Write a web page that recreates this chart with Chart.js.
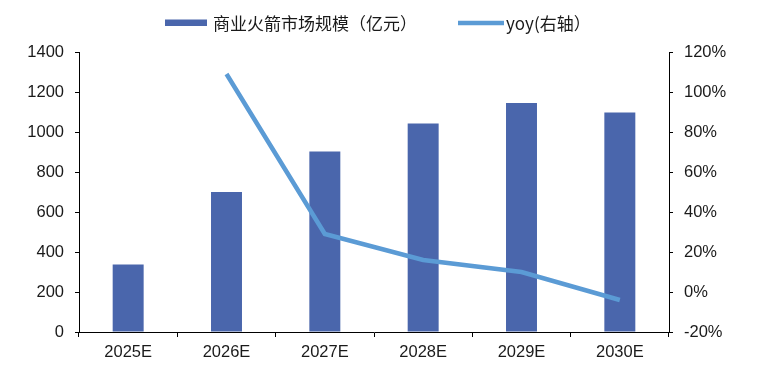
<!DOCTYPE html>
<html><head><meta charset="utf-8">
<script src="https://cdn.jsdelivr.net/npm/chart.js@4/dist/chart.umd.min.js"></script>
<style>html,body{margin:0;padding:0;background:#fff}</style>
</head><body>
<canvas id="c" width="758" height="371"></canvas>
<script>
const categories = ['2025E','2026E','2027E','2028E','2029E','2030E'];
const marketSize = [338, 700, 903, 1042, 1145, 1098];
const yoy = [null, 109, 29, 16, 10, -4];
const seriesNames = ['商业火箭市场规模（亿元）', 'yoy(右轴）'];
const leftRange = {min: 0, max: 1400, step: 200};
const rightRange = {min: -20, max: 120, step: 20};

const BAR_COLOR = '#4A66AC';
const LINE_COLOR = '#5B9BD5';
const TICK_FONT = {family: '"Liberation Sans", Arial, sans-serif', size: 16.5};
const TEXT_COLOR = '#1a1a1a';

const legendPlugin = {
  id: 'topLegend',
  afterDraw(chart) {
    const ctx = chart.ctx;
    const ds = chart.data.datasets;
    const barDs = ds.find(d => d.type === 'bar');
    const lineDs = ds.find(d => d.type === 'line');
    ctx.save();
    ctx.font = '17px "Noto Sans CJK SC", sans-serif';
    ctx.textBaseline = 'middle';
    ctx.fillStyle = barDs.backgroundColor;
    ctx.fillRect(165, 19.5, 42, 6.5);
    ctx.fillStyle = TEXT_COLOR;
    ctx.fillText(barDs.label, 213, 23.5);
    ctx.strokeStyle = lineDs.borderColor;
    ctx.lineWidth = 4.5;
    ctx.beginPath();
    ctx.moveTo(458, 23);
    ctx.lineTo(504, 23);
    ctx.stroke();
    ctx.fillText(lineDs.label, 506, 23.5);
    ctx.restore();
  }
};

new Chart(document.getElementById('c'), {
  type: 'bar',
  data: {
    labels: categories,
    datasets: [
      {
        type: 'line',
        label: seriesNames[1],
        data: yoy,
        yAxisID: 'y1',
        borderColor: LINE_COLOR,
        backgroundColor: LINE_COLOR,
        borderWidth: 4.5,
        pointRadius: 0,
        tension: 0,
        order: 0
      },
      {
        type: 'bar',
        label: seriesNames[0],
        data: marketSize,
        yAxisID: 'y',
        backgroundColor: BAR_COLOR,
        categoryPercentage: 1,
        barPercentage: 0.315,
        order: 1
      }
    ]
  },
  options: {
    responsive: false,
    devicePixelRatio: 1,
    animation: false,
    layout: {padding: {top: 52, left: 0, right: 0, bottom: 0}},
    plugins: {legend: {display: false}, tooltip: {enabled: false}},
    scales: {
      x: {
        offset: true,
        grid: {offset: true, drawOnChartArea: false, color: '#000', tickLength: 5},
        border: {color: '#000', width: 1},
        ticks: {font: TICK_FONT, color: TEXT_COLOR, padding: 6, maxRotation: 0},
        afterFit(s) { s.height = 39; }
      },
      y: {
        position: 'left',
        min: leftRange.min, max: leftRange.max,
        grid: {drawOnChartArea: false, color: '#000', tickLength: 4},
        border: {color: '#000', width: 1},
        ticks: {stepSize: leftRange.step, font: TICK_FONT, color: TEXT_COLOR, padding: 11,
          callback: v => String(v)},
        afterFit(s) { s.width = 79; }
      },
      y1: {
        position: 'right',
        min: rightRange.min, max: rightRange.max,
        grid: {drawOnChartArea: false, color: '#000', tickLength: 4},
        border: {color: '#000', width: 1},
        ticks: {stepSize: rightRange.step, font: TICK_FONT, color: TEXT_COLOR, padding: 11,
          callback: v => v + '%'},
        afterFit(s) { s.width = 89; }
      }
    }
  },
  plugins: [legendPlugin]
});
</script>
</body></html>
